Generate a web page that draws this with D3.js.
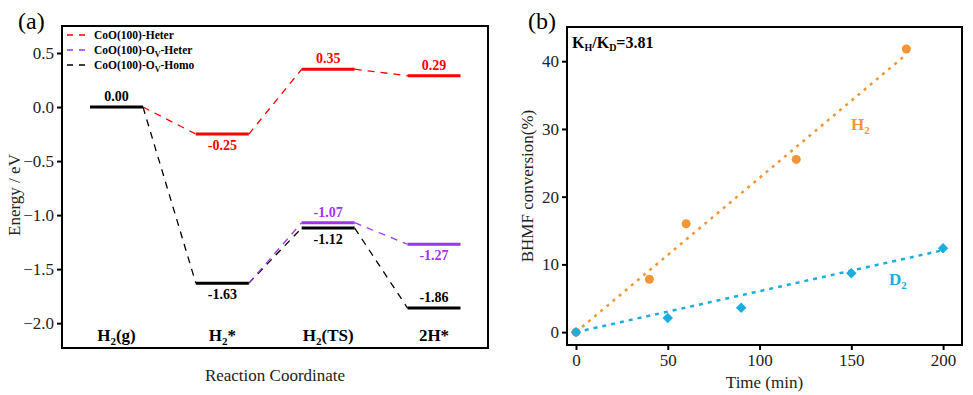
<!DOCTYPE html>
<html>
<head>
<meta charset="utf-8">
<script src="https://cdn.jsdelivr.net/npm/d3@7"></script>
<style>
  body { margin: 0; background: #fff; }
</style>
</head>
<body>
<svg id="chart" width="973" height="395"></svg>
<script>
// ---- panel (a) data ----
const steps = ['H2(g)', 'H2*', 'H2(TS)', '2H*'];
const heter = [0.00, -0.25, 0.35, 0.29];
const ovHeter = [null, -1.63, -1.07, -1.27];
const ovHomo = [0.00, -1.63, -1.12, -1.86];
const energyTicks = [0.5, 0.0, -0.5, -1.0, -1.5, -2.0];

// ---- panel (b) data ----
const timeH2 = [0, 40, 60, 120, 180];
const convH2 = [0, 7.8, 16.0, 25.5, 41.8];
const timeD2 = [0, 50, 90, 150, 200];
const convD2 = [0, 2.1, 3.6, 8.7, 12.4];
const fitH2 = [[0, 0], [180, 41.0]];
const fitD2 = [[0, 0], [200, 12.1]];
const timeTicks = [0, 50, 100, 150, 200];
const convTicks = [0, 10, 20, 30, 40];

const FONT = "'Liberation Serif', 'Times New Roman', serif";
const svg = d3.select('#chart').style('font-family', FONT);
const RED = '#ff0000', PURPLE = '#a033ee', BLACK = '#000000';
const ORANGE = '#f39536', BLUE = '#1aade0';

// ================= panel (a) =================
const a = { left: 62, right: 488, top: 26, bottom: 348 };
const ya = d3.scaleLinear().domain([-2.23, 0.75]).range([a.bottom, a.top]);
const xa = d3.scalePoint().domain(steps).range([116.5, 434]);
const halfW = 26.5;

const gA = svg.append('g');

function styleAxis(g) {
  g.attr('font-family', null);
  g.select('.domain').remove();
  g.selectAll('line').attr('stroke-width', 2);
  g.selectAll('text').attr('font-size', 17).attr('fill', '#222').style('font-family', FONT);
}

// y axis
gA.append('g')
  .attr('transform', `translate(${a.left},0)`)
  .call(d3.axisLeft(ya).tickValues(energyTicks).tickFormat(d3.format('.1f')).tickSize(5).tickPadding(3))
  .call(styleAxis);

// connectors
function connect(vals, color, from) {
  for (let i = from; i < vals.length - 1; i++) {
    const v0 = vals[i], v1 = vals[i + 1];
    if (v0 == null || v1 == null) continue;
    gA.append('line')
      .attr('x1', xa(steps[i]) + halfW).attr('y1', ya(v0))
      .attr('x2', xa(steps[i + 1]) - halfW).attr('y2', ya(v1))
      .attr('stroke', color).attr('stroke-width', 1.3)
      .attr('stroke-dasharray', '7,6');
  }
}
connect(heter, RED, 0);
connect(ovHomo, BLACK, 0);
// purple branch starts from the shared H2* level
connect(ovHeter, PURPLE, 1);

// levels
function levels(vals, color, skip) {
  vals.forEach((v, i) => {
    if (v == null || skip.includes(i)) return;
    gA.append('line')
      .attr('x1', xa(steps[i]) - halfW).attr('x2', xa(steps[i]) + halfW)
      .attr('y1', ya(v)).attr('y2', ya(v))
      .attr('stroke', color).attr('stroke-width', 3);
  });
}
levels(heter, RED, [0]);
levels(ovHomo, BLACK, []);
levels(ovHeter, PURPLE, [1]);

// value labels: position above (-1) or below (+1)
const labelPos = [
  { s: ovHomo, i: 0, c: BLACK, d: -1 },
  { s: heter, i: 1, c: RED, d: 1 },
  { s: heter, i: 2, c: RED, d: -1 },
  { s: heter, i: 3, c: RED, d: -1 },
  { s: ovHeter, i: 2, c: PURPLE, d: -1 },
  { s: ovHeter, i: 3, c: PURPLE, d: 1 },
  { s: ovHomo, i: 1, c: BLACK, d: 1 },
  { s: ovHomo, i: 2, c: BLACK, d: 1 },
  { s: ovHomo, i: 3, c: BLACK, d: -1 }
];
labelPos.forEach(p => {
  const v = p.s[p.i];
  gA.append('text')
    .attr('x', xa(steps[p.i]))
    .attr('y', ya(v) + (p.d < 0 ? -6 : 16))
    .attr('text-anchor', 'middle')
    .attr('font-size', 14).attr('font-weight', 'bold')
    .attr('fill', p.c)
    .text(v.toFixed(2));
});

// category labels
const catText = gA.append('g');
steps.forEach(s => {
  const t = catText.append('text')
    .attr('x', xa(s)).attr('y', 341)
    .attr('text-anchor', 'middle')
    .attr('font-size', 17).attr('font-weight', 'bold');
  const m = s.match(/^H2(.*)$/);
  if (m) {
    t.append('tspan').text('H');
    t.append('tspan').text('2').attr('font-size', 11).attr('dy', 4);
    t.append('tspan').text(m[1]).attr('dy', -4);
  } else {
    t.text(s);
  }
});

// legend
const legendItems = [
  { c: RED, main: 'CoO(100)-Heter', sub: null, rest: '' },
  { c: PURPLE, main: 'CoO(100)-O', sub: 'V', rest: '-Heter' },
  { c: BLACK, main: 'CoO(100)-O', sub: 'V', rest: '-Homo' }
];
legendItems.forEach((it, k) => {
  const y = 35 + k * 15;
  gA.append('line').attr('x1', 67).attr('x2', 89).attr('y1', y).attr('y2', y)
    .attr('stroke', it.c).attr('stroke-width', 1.5).attr('stroke-dasharray', '6,6');
  const t = gA.append('text').attr('x', 94).attr('y', y + 4)
    .attr('font-size', 11.5).attr('font-weight', 'bold');
  t.append('tspan').text(it.main);
  if (it.sub) {
    t.append('tspan').text(it.sub).attr('font-size', 8).attr('dy', 3);
    t.append('tspan').text(it.rest).attr('dy', -3);
  }
});

// frame
gA.append('rect').attr('x', a.left).attr('y', a.top)
  .attr('width', a.right - a.left).attr('height', a.bottom - a.top)
  .attr('fill', 'none').attr('stroke', '#000').attr('stroke-width', 2);

// axis titles
gA.append('text').attr('transform', `translate(20,${(a.top + a.bottom) / 2 + 8}) rotate(-90)`)
  .attr('text-anchor', 'middle').attr('font-size', 17).attr('fill', '#222').text('Energy / eV');
gA.append('text').attr('x', (a.left + a.right) / 2).attr('y', 381)
  .attr('text-anchor', 'middle').attr('font-size', 17).attr('fill', '#222').text('Reaction Coordinate');
gA.append('text').attr('x', 18).attr('y', 29).attr('font-size', 24).text('(a)');

// ================= panel (b) =================
const b = { left: 567, right: 962, top: 27, bottom: 345 };
const xb = d3.scaleLinear().domain([-4.9, 210.3]).range([b.left, b.right]);
const yb = d3.scaleLinear().domain([-1.9, 45.05]).range([b.bottom, b.top]);
const gB = svg.append('g');

gB.append('g')
  .attr('transform', `translate(0,${b.bottom})`)
  .call(d3.axisBottom(xb).tickValues(timeTicks).tickSize(5).tickPadding(4))
  .call(styleAxis);

gB.append('g')
  .attr('transform', `translate(${b.left},0)`)
  .call(d3.axisLeft(yb).tickValues(convTicks).tickSize(5).tickPadding(3))
  .call(styleAxis);

const line = d3.line().x(d => xb(d[0])).y(d => yb(d[1]));
gB.append('path').attr('d', line(fitH2)).attr('fill', 'none')
  .attr('stroke', ORANGE).attr('stroke-width', 2.5).attr('stroke-dasharray', '3,5');
gB.append('path').attr('d', line(fitD2)).attr('fill', 'none')
  .attr('stroke', BLUE).attr('stroke-width', 2.5).attr('stroke-dasharray', '4,5');

gB.selectAll('.ptH').data(timeH2).join('circle')
  .attr('cx', d => xb(d)).attr('cy', (d, i) => yb(convH2[i])).attr('r', 4.5)
  .attr('fill', ORANGE);
const diamond = d3.symbol().type(d3.symbolDiamond2 || d3.symbolDiamond).size(70);
gB.selectAll('.ptD').data(timeD2).join('path')
  .attr('d', diamond)
  .attr('transform', (d, i) => `translate(${xb(d)},${yb(convD2[i])})`)
  .attr('fill', BLUE);

// labels
const kt = gB.append('text').attr('x', 572).attr('y', 48).attr('font-size', 16).attr('font-weight', 'bold');
kt.append('tspan').text('K');
kt.append('tspan').text('H').attr('font-size', 10).attr('dy', 3);
kt.append('tspan').text('/K').attr('dy', -3);
kt.append('tspan').text('D').attr('font-size', 10).attr('dy', 3);
kt.append('tspan').text('=3.81').attr('dy', -3);

function subLabel(x, y, main, sub, color) {
  const t = gB.append('text').attr('x', x).attr('y', y).attr('font-size', 17)
    .attr('font-weight', 'bold').attr('fill', color);
  t.append('tspan').text(main);
  t.append('tspan').text(sub).attr('font-size', 11).attr('dy', 4);
}
subLabel(851, 130, 'H', '2', ORANGE);
subLabel(889, 285, 'D', '2', BLUE);

gB.append('rect').attr('x', b.left).attr('y', b.top)
  .attr('width', b.right - b.left).attr('height', b.bottom - b.top)
  .attr('fill', 'none').attr('stroke', '#000').attr('stroke-width', 2);

gB.append('text').attr('transform', `translate(533,${(b.top + b.bottom) / 2}) rotate(-90)`)
  .attr('text-anchor', 'middle').attr('font-size', 17).attr('fill', '#222').text('BHMF conversion(%)');
gB.append('text').attr('x', (b.left + b.right) / 2).attr('y', 388)
  .attr('text-anchor', 'middle').attr('font-size', 17).attr('fill', '#222').text('Time (min)');
gB.append('text').attr('x', 528).attr('y', 29).attr('font-size', 24).text('(b)');
</script>
</body>
</html>
